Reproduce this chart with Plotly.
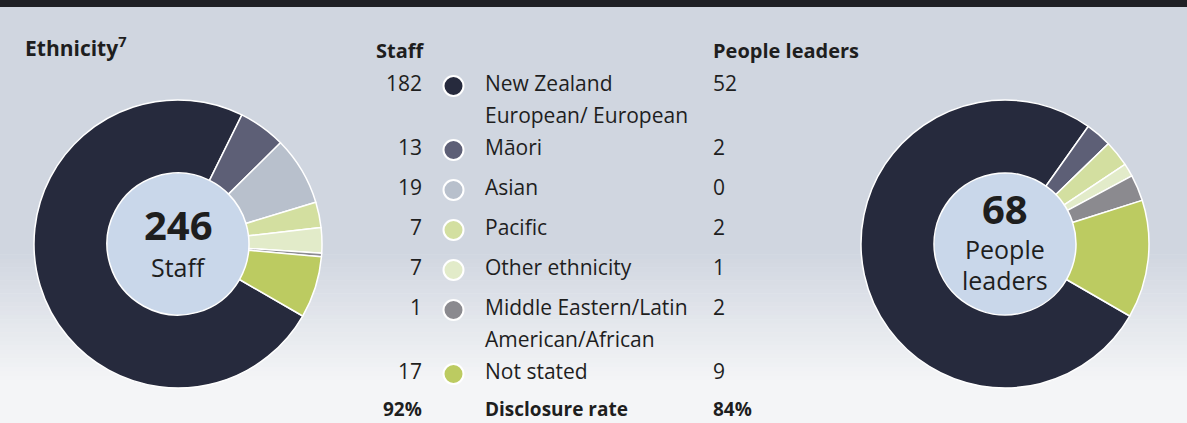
import plotly.graph_objects as go

# ---- data ----
categories = ["New Zealand\nEuropean/ European", "Māori", "Asian", "Pacific",
              "Other ethnicity", "Middle Eastern/Latin\nAmerican/African", "Not stated"]
staff_counts = [182, 13, 19, 7, 7, 1, 17]
leader_counts = [52, 2, 0, 2, 1, 2, 9]
colors = ["#262a3d", "#5d5f76", "#b8c0cc", "#d3dfa0", "#e2ebc9", "#8b8a8f", "#bccb61"]
staff_total_label = "246"
leader_total_label = "68"
staff_disclosure = "92%"
leader_disclosure = "84%"

W, H = 1187, 423
FONT = "Open Sans"
TXT = "#1e1e1e"

fig = go.Figure()

# background gradient (decorative)
shapes = []
top_col = (208, 214, 224)
bot_col = (244, 245, 247)
shapes.append(dict(type="rect", xref="x", yref="y", x0=0, x1=W, y0=0, y1=250,
                   fillcolor="rgb(%d,%d,%d)" % top_col, line=dict(width=0), layer="below"))
n = 30
for i in range(n):
    t0 = 250 + i * (130 / n)
    t1 = 250 + (i + 1) * (130 / n) + 0.5
    f = (i + 0.5) / n
    c = tuple(int(top_col[k] + (bot_col[k] - top_col[k]) * f) for k in range(3))
    shapes.append(dict(type="rect", xref="x", yref="y", x0=0, x1=W, y0=t0, y1=t1,
                       fillcolor="rgb(%d,%d,%d)" % c, line=dict(width=0), layer="below"))
shapes.append(dict(type="rect", xref="x", yref="y", x0=0, x1=W, y0=380, y1=H,
                   fillcolor="rgb(%d,%d,%d)" % bot_col, line=dict(width=0), layer="below"))
# top dark rule
shapes.append(dict(type="rect", xref="x", yref="y", x0=0, x1=W, y0=0, y1=7,
                   fillcolor="#1f2025", line=dict(width=0), layer="below"))

# donut geometry
cy, R = 244, 144
centers = [178, 1005]
hole_r = 71
for cx in centers:
    shapes.append(dict(type="circle", xref="x", yref="y", x0=cx - hole_r, x1=cx + hole_r,
                       y0=cy - hole_r, y1=cy + hole_r, fillcolor="#c9d7ea",
                       line=dict(width=0), layer="below"))

for cx, vals in zip(centers, [staff_counts, leader_counts]):
    fig.add_trace(go.Pie(
        values=vals, labels=[c.replace("\n", " ") for c in categories],
        marker=dict(colors=colors, line=dict(color="white", width=1.5)),
        hole=hole_r / R, sort=False, direction="clockwise", rotation=120,
        textinfo="none", hoverinfo="label+value", showlegend=False,
        domain=dict(x=[(cx - R) / W, (cx + R) / W], y=[(H - cy - R) / H, (H - cy + R) / H]),
    ))

# legend table rows
row_y = []
y = 83
for c in categories:
    row_y.append(y)
    y += 40 + (24 if "\n" in c else 0)
disc_y = y - 2

fig.add_trace(go.Scatter(
    x=[453.5] * len(categories), y=[ry + 3 for ry in row_y], mode="markers",
    marker=dict(size=20, color=colors, line=dict(color="white", width=2)),
    hoverinfo="skip", showlegend=False, xaxis="x", yaxis="y",
))

ann = []
def txt(x, y, s, size=21, bold=False, anchor="left"):
    ann.append(dict(x=x, y=y, xref="x", yref="y", text=("<b>%s</b>" % s) if bold else s,
                    showarrow=False, xanchor=anchor, yanchor="middle",
                    font=dict(family=FONT, size=size, color=TXT)))

txt(23, 46, "Ethnicity<sup>7</sup>", size=21, bold=True)
txt(374, 50, "<b>Staff</b>", size=20)
txt(711, 50, "<b>People leaders</b>", size=20)
for c, sv, lv, ry in zip(categories, staff_counts, leader_counts, row_y):
    lines = c.split("\n")
    txt(424, ry, str(sv), anchor="right")
    txt(483, ry, lines[0])
    if len(lines) > 1:
        txt(483, ry + 32, lines[1])
    txt(711, ry, str(lv))
txt(424, disc_y, staff_disclosure, size=19, bold=True, anchor="right")
txt(483, disc_y, "Disclosure rate", size=19, bold=True)
txt(711, disc_y, leader_disclosure, size=19, bold=True)

# donut centre labels
txt(178, 224, staff_total_label, size=40, bold=True, anchor="center")
txt(178, 267, "Staff", size=25, anchor="center")
txt(1005, 208, leader_total_label, size=40, bold=True, anchor="center")
txt(1005, 249, "People", size=25, anchor="center")
txt(1005, 280, "leaders", size=25, anchor="center")

fig.update_layout(
    width=W, height=H, margin=dict(l=0, r=0, t=0, b=0),
    paper_bgcolor="#f4f5f7", plot_bgcolor="rgba(0,0,0,0)",
    xaxis=dict(range=[0, W], visible=False, fixedrange=True),
    yaxis=dict(range=[H, 0], visible=False, fixedrange=True),
    shapes=shapes, annotations=ann, showlegend=False,
    font=dict(family=FONT, color=TXT),
)
fig.write_html("out.html", config={"displayModeBar": False},
               post_script="document.body.style.margin='0';document.body.style.overflow='hidden';")
